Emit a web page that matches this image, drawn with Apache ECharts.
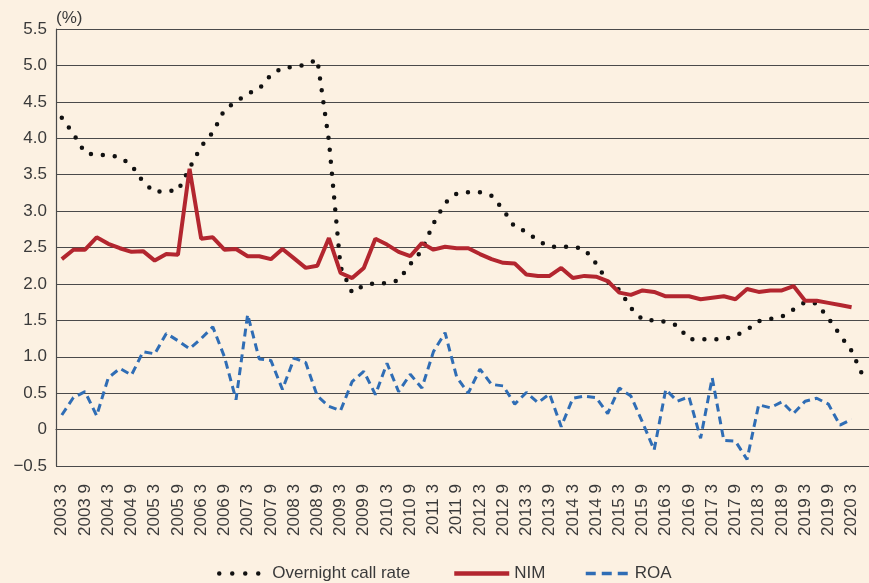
<!DOCTYPE html>
<html>
<head>
<meta charset="utf-8">
<script src="https://cdn.jsdelivr.net/npm/echarts@6/dist/echarts.min.js"></script>
<style>
html,body{margin:0;padding:0;background:#FCF1E2;}
#chart{width:869px;height:583px;}
</style>
</head>
<body>
<div id="chart"></div>
<script>
// Quarterly categories (year month), 2003.3 – 2020.6
const categories = [];
for (let y = 2003; y <= 2020; y++) {
  for (const m of [3, 6, 9, 12]) {
    if (y === 2020 && m > 6) break;
    categories.push(y + ' ' + m);
  }
}

const yTickLabels = {'-0.5': '\u22120.5', '0': '0', '0.5': '0.5', '1': '1.0', '1.5': '1.5', '2': '2.0',
  '2.5': '2.5', '3': '3.0', '3.5': '3.5', '4': '4.0', '4.5': '4.5', '5': '5.0', '5.5': '5.5'};

const callRate = [4.28, 4.06, 3.80, 3.77, 3.77, 3.74, 3.63, 3.40, 3.26, 3.28,
  3.28, 3.59, 3.89, 4.08, 4.39, 4.50, 4.61, 4.68, 4.87, 4.97,
  4.98, 5.01, 5.08, 3.96, 2.23, 1.88, 1.98, 2.01, 2.01, 2.05,
  2.27, 2.46, 2.83, 3.11, 3.24, 3.26, 3.26, 3.21, 3.02, 2.78,
  2.72, 2.59, 2.51, 2.51, 2.51, 2.48, 2.28, 2.03, 1.92, 1.67,
  1.51, 1.50, 1.48, 1.43, 1.24, 1.24, 1.24, 1.24, 1.29, 1.37,
  1.49, 1.52, 1.55, 1.65, 1.75, 1.73, 1.53, 1.30, 1.08, 0.73];

const nim = [2.34, 2.47, 2.47, 2.64, 2.55, 2.49, 2.44, 2.45, 2.32, 2.41,
  2.40, 3.58, 2.62, 2.64, 2.47, 2.48, 2.38, 2.38, 2.34, 2.48,
  2.35, 2.22, 2.25, 2.63, 2.15, 2.08, 2.22, 2.62, 2.54, 2.44,
  2.38, 2.56, 2.47, 2.51, 2.49, 2.49, 2.41, 2.34, 2.29, 2.28,
  2.13, 2.11, 2.11, 2.22, 2.08, 2.11, 2.10, 2.04, 1.88, 1.85,
  1.91, 1.89, 1.83, 1.83, 1.83, 1.79, 1.81, 1.83, 1.79, 1.93,
  1.89, 1.91, 1.91, 1.97, 1.77, 1.77, 1.74, 1.71, 1.68, null];

const roa = [0.20, 0.44, 0.52, 0.19, 0.71, 0.84, 0.75, 1.07, 1.04, 1.32,
  1.22, 1.11, 1.25, 1.41, 1.00, 0.41, 1.58, 0.97, 0.95, 0.55,
  0.98, 0.92, 0.46, 0.32, 0.26, 0.66, 0.80, 0.48, 0.91, 0.52,
  0.76, 0.57, 1.07, 1.33, 0.72, 0.50, 0.83, 0.62, 0.60, 0.35,
  0.51, 0.37, 0.49, 0.04, 0.43, 0.46, 0.44, 0.22, 0.57, 0.46,
  0.10, -0.28, 0.55, 0.39, 0.45, -0.12, 0.71, -0.15, -0.16, -0.41,
  0.34, 0.30, 0.38, 0.22, 0.39, 0.43, 0.35, 0.06, 0.14, null];

const textColor = '#3a3a3a';
const gridColor = '#4a4a4a';
const font = 'Liberation Sans, Arial, sans-serif';
const fs = 17;

const callColor = '#111111';
const nimColor = '#B3262F';
const roaColor = '#2F6DB5';

function legendOf(name, left, width, lineStyle) {
  return {
    top: 565,
    left: left,
    padding: 0,
    itemWidth: width,
    itemHeight: 10,
    selectedMode: false,
    itemStyle: {opacity: 0},
    lineStyle: lineStyle,
    textStyle: {fontSize: fs, color: textColor, fontFamily: font},
    data: [name]
  };
}

const chart = echarts.init(document.getElementById('chart'), null, {renderer: 'canvas'});
chart.setOption({
  backgroundColor: '#FCF1E2',
  animation: false,
  textStyle: {fontFamily: font},
  grid: {left: 56, top: 29, width: 814, height: 437, containLabel: false},
  legend: [
    legendOf('Overnight call rate', 213, 52, {color: callColor, width: 4.5, type: [0, 13], dashOffset: -4, cap: 'round'}),
    legendOf('NIM', 452, 55, {color: nimColor, width: 4.5, type: 'solid'}),
    legendOf('ROA', 580, 48, {color: roaColor, width: 3.5, type: [10, 6]})
  ],
  xAxis: {
    type: 'category',
    data: categories,
    boundaryGap: true,
    axisLine: {lineStyle: {color: gridColor, width: 1.2}},
    axisTick: {show: false},
    axisLabel: {
      interval: 1,
      rotate: 90,
      margin: 18,
      fontSize: fs,
      color: textColor,
      fontFamily: font
    }
  },
  yAxis: {
    type: 'value',
    min: -0.5,
    max: 5.5,
    interval: 0.5,
    name: '(%)',
    nameLocation: 'end',
    nameGap: 2,
    nameTextStyle: {fontSize: fs, color: textColor, align: 'left'},
    axisLine: {show: true, lineStyle: {color: gridColor, width: 1.2}},
    axisTick: {show: false},
    axisLabel: {
      fontSize: fs,
      color: textColor,
      margin: 9,
      formatter: v => yTickLabels[String(v)] ?? String(v)
    },
    splitLine: {show: true, lineStyle: {color: gridColor, width: 1.2}}
  },
  series: [
    {
      name: 'Overnight call rate',
      type: 'line',
      data: callRate,
      symbol: 'none',
      z: 2,
      lineStyle: {color: callColor, width: 4.5, type: [0, 12], cap: 'round'},
      itemStyle: {color: callColor}
    },
    {
      name: 'NIM',
      type: 'line',
      data: nim,
      symbol: 'none',
      z: 4,
      lineStyle: {color: nimColor, width: 4},
      itemStyle: {color: nimColor}
    },
    {
      name: 'ROA',
      type: 'line',
      data: roa,
      symbol: 'none',
      z: 3,
      lineStyle: {color: roaColor, width: 3, type: [8, 5]},
      itemStyle: {color: roaColor}
    }
  ]
});
</script>
</body>
</html>
